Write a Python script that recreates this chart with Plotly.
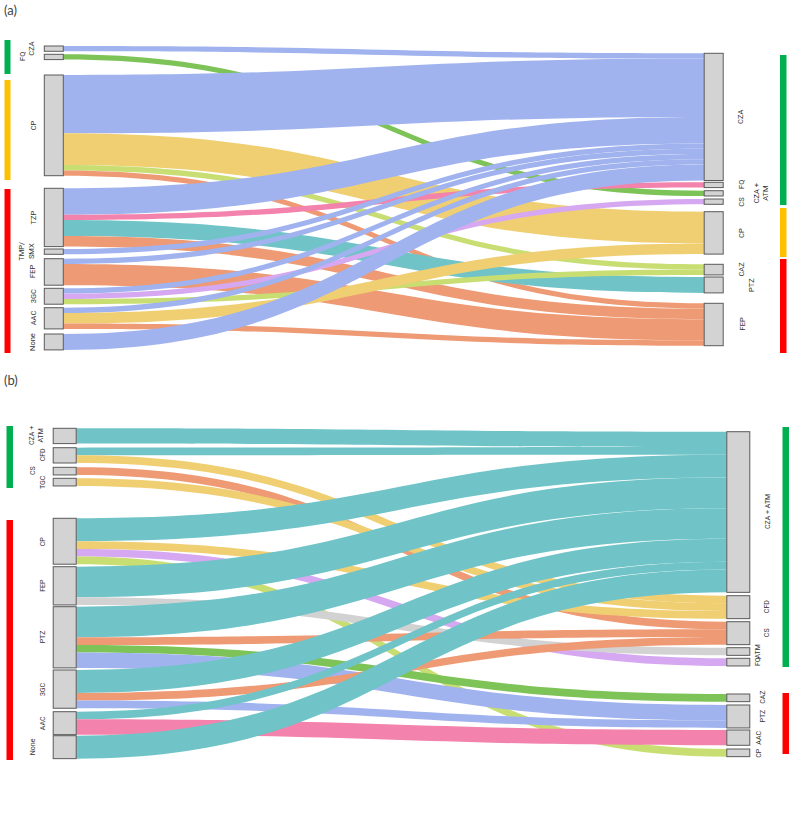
import plotly.graph_objects as go

W, H = 794, 813

# ---------------- data: panel (a) ----------------
a_left = ["CZA", "FQ", "CP", "TZP", "TMP/SMX", "FEP", "3GC", "AAC", "None"]
a_right = ["CZA", "FQ", "CZA + ATM", "CS", "CP", "CAZ", "PTZ", "FEP"]
a_src = ["CZA", "FQ", "CP", "CP", "CP", "CP", "TZP", "TZP", "TZP", "TZP",
         "TMP/SMX", "FEP", "FEP", "3GC", "3GC", "3GC", "AAC", "AAC", "AAC", "None"]
a_tgt = ["CZA", "CZA + ATM", "CZA", "CP", "CAZ", "FEP", "CZA", "FQ", "PTZ", "FEP",
         "CZA", "CZA", "FEP", "CZA", "CS", "CAZ", "CZA", "CP", "FEP", "CZA"]
a_val = [1, 1, 11, 6, 1, 1, 5, 1, 3, 2, 1, 1, 4, 1, 1, 1, 1, 2, 1, 3]

# ---------------- data: panel (b) ----------------
b_left = ["CZA + ATM", "CFD", "CS", "TGC", "CP", "FEP", "PTZ", "3GC", "AAC", "None"]
b_right = ["CZA + ATM", "CFD", "CS", "ATM", "FQ", "CAZ", "PTZ", "AAC", "CP"]
b_src = ["CZA + ATM", "CFD", "CFD", "CS", "TGC", "CP", "CP", "CP", "CP", "FEP", "FEP",
         "PTZ", "PTZ", "PTZ", "PTZ", "3GC", "3GC", "3GC", "AAC", "AAC", "None"]
b_tgt = ["CZA + ATM", "CZA + ATM", "CFD", "CS", "CFD", "CZA + ATM", "CFD", "FQ", "CP",
         "CZA + ATM", "ATM", "CZA + ATM", "CS", "CAZ", "PTZ", "CZA + ATM", "CS", "PTZ",
         "CZA + ATM", "AAC", "CZA + ATM"]
b_val = [2, 1, 1, 1, 1, 3, 1, 1, 1, 4, 1, 4, 1, 1, 2, 3, 1, 1, 1, 2, 3]

# ---------------- styles ----------------
BLUE = "rgb(160,179,238)"
GREEN = "rgb(125,195,88)"
PINK = "rgb(243,130,172)"
LAV = "rgb(214,168,241)"
YEL = "rgb(240,207,115)"
LGREEN = "rgb(200,222,114)"
TEAL = "rgb(112,196,200)"
SALMON = "rgb(238,154,116)"
GREY = "rgb(210,210,210)"

a_colors = {"CZA": BLUE, "FQ": PINK, "CZA + ATM": GREEN, "CS": LAV, "CP": YEL,
            "CAZ": LGREEN, "PTZ": TEAL, "FEP": SALMON}
b_colors = {"CZA + ATM": TEAL, "CFD": YEL, "CS": SALMON, "ATM": GREY, "FQ": LAV,
            "CAZ": GREEN, "PTZ": BLUE, "AAC": PINK, "CP": LGREEN}

LABEL_FONT = "Liberation Sans Narrow, Roboto, Liberation Sans"

# layout (pixels)
a_layout = dict(dom=(40, 360), pad=8.2, thick=19, lcx=53.8, rcx=713.7, fs=7.5,
                ltops=[46, 54.3, 75, 188.3, 249, 258.7, 288.3, 307.7, 334],
                rtops=[53.3, 182.3, 190.7, 199, 211.7, 264.3, 277, 303.3],
                llx=[32, 23, 33, 33, 27, 33, 33, 33, 33],
                rlx=[741, 742, 761, 742, 742, 742, 752, 742])
b_layout = dict(dom=(420, 770), pad=8.29, thick=23, lcx=64.7, rcx=738.3, fs=7,
                ltops=[428.3, 447.7, 467.3, 478.3, 518.3, 566.7, 606.7, 670, 711.7, 735.7],
                rtops=[431.7, 595.7, 621.7, 647.7, 658.3, 694, 705, 730, 749],
                llx=[37, 43, 33, 43, 43, 43, 43, 43, 43, 33],
                rlx=[768, 767, 767, 758, 758, 763, 763, 759, 759])

label_text = {"TMP/SMX": "TMP/<br>SMX"}
a_right_text = {"CZA + ATM": "CZA +<br>ATM"}
b_left_text = {"CZA + ATM": "CZA +<br>ATM"}

fig = go.Figure()
annotations = []


def add_panel(left, right, src, tgt, val, colors, lay, ltext, rtext):
    nL = len(left)
    top, bot = lay["dom"]
    hd = bot - top
    lvals = [sum(v for s, v in zip(src, val) if s == n) for n in left]
    rvals = [sum(v for t, v in zip(tgt, val) if t == n) for n in right]
    ky = min((hd - (len(left) - 1) * lay["pad"]) / sum(lvals),
             (hd - (len(right) - 1) * lay["pad"]) / sum(rvals))
    xs, ys = [], []
    lcent = [t + v * ky / 2 for t, v in zip(lay["ltops"], lvals)]
    rcent = [t + v * ky / 2 for t, v in zip(lay["rtops"], rvals)]
    for c in lcent:
        xs.append(lay["lcx"] / W)
        ys.append((c - top) / hd)
    for c in rcent:
        xs.append(lay["rcx"] / W)
        ys.append((c - top) / hd)
    sidx = [left.index(s) for s in src]
    tidx = [nL + right.index(t) for t in tgt]
    fig.add_trace(go.Sankey(
        arrangement="fixed",
        domain=dict(x=[0, 1], y=[1 - bot / H, 1 - top / H]),
        node=dict(label=[""] * (nL + len(right)), x=xs, y=ys,
                  pad=lay["pad"], thickness=lay["thick"],
                  color="rgb(211,211,211)",
                  line=dict(color="rgb(90,90,90)", width=1),
                  customdata=left + right, hovertemplate="%{customdata}<extra></extra>"),
        link=dict(source=sidx, target=tidx, value=val,
                  color=[colors[t] for t in tgt],
                  line=dict(width=0), hoverinfo="skip"),
    ))
    font = dict(size=lay["fs"], color="#333", family=LABEL_FONT)
    for name, c, lx in zip(left, lcent, lay["llx"]):
        annotations.append(dict(text=ltext.get(name, label_text.get(name, name)),
                                x=lx / W, y=1 - c / H, xref="paper", yref="paper",
                                textangle=-90, showarrow=False,
                                xanchor="center", yanchor="middle", font=font))
    for name, c, lx in zip(right, rcent, lay["rlx"]):
        annotations.append(dict(text=rtext.get(name, name),
                                x=lx / W, y=1 - c / H, xref="paper", yref="paper",
                                textangle=-90, showarrow=False,
                                xanchor="center", yanchor="middle", font=font))


add_panel(a_left, a_right, a_src, a_tgt, a_val, a_colors, a_layout, {}, a_right_text)
add_panel(b_left, b_right, b_src, b_tgt, b_val, b_colors, b_layout, b_left_text, {})

# group bars
GBAR, YBAR, RBAR = "rgb(0,176,80)", "rgb(255,192,0)", "rgb(255,0,0)"
bars = [
    (4.5, 10.5, 40, 74, GBAR), (4.5, 10.5, 80, 180, YBAR), (4.5, 10.5, 189, 353, RBAR),
    (780, 786.5, 55, 205, GBAR), (780, 786.5, 208, 257, YBAR), (780, 786.5, 259, 353, RBAR),
    (6.5, 13, 426, 488, GBAR), (6.5, 13, 520, 760, RBAR),
    (782.5, 789, 427, 667, GBAR), (782.5, 789, 693, 754, RBAR),
]
shapes = [dict(type="rect", xref="paper", yref="paper", x0=x0 / W, x1=x1 / W,
               y0=1 - y1 / H, y1=1 - y0 / H, fillcolor=c, line=dict(width=0))
          for x0, x1, y0, y1, c in bars]

for t, yy in (("(a)", 10), ("(b)", 380)):
    annotations.append(dict(text=t, x=2 / W, y=1 - yy / H, xref="paper", yref="paper",
                            xanchor="left", yanchor="middle", showarrow=False,
                            font=dict(size=13, color="#444", family="Lato, Liberation Sans")))

fig.update_layout(width=W, height=H, margin=dict(l=0, r=0, t=0, b=0),
                  paper_bgcolor="white", plot_bgcolor="white",
                  font=dict(family="Liberation Sans"),
                  shapes=shapes, annotations=annotations, showlegend=False)

fig.write_html("out.html")
